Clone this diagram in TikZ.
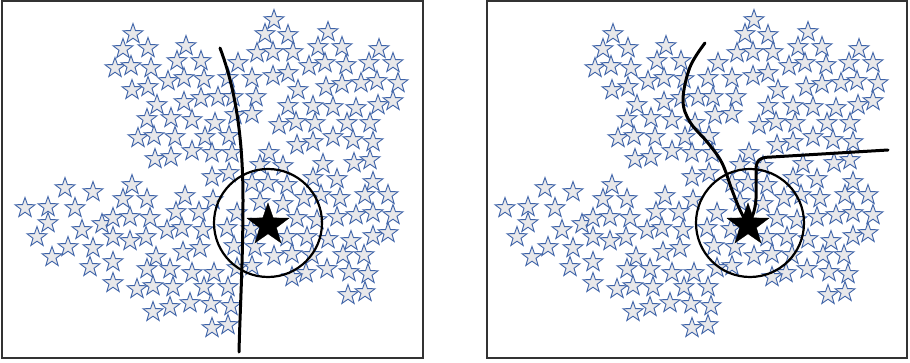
\documentclass[tikz,border=0pt]{standalone}
\usepackage{tikz}
\usetikzlibrary{shapes.geometric}
\definecolor{starblue}{HTML}{3E63A8}
\definecolor{starfill}{HTML}{E8E8EA}

\begin{document}
\begin{tikzpicture}[x=1pt, y=-1pt,
    smallstar/.style={star, star points=5, star point ratio=2.5, inner sep=0pt,
        minimum size=21pt, draw=starblue, fill=starfill, line width=0.9pt},
    querystar/.style={star, star points=5, star point ratio=2.5, inner sep=0pt,
        minimum size=44pt, fill=black, draw=black},
    panel/.style={draw=black!80, line width=1.8pt},
    nbhd/.style={circle, draw=black, line width=2.2pt, minimum size=108pt, inner sep=0pt},
    boundary/.style={draw=black, line width=3pt, line cap=round}]
    \useasboundingbox (0,0) rectangle (910,363);

    \draw[panel] (2,1) rectangle (423,358);
    \draw[panel] (487,1) rectangle (907,358);

    % the same cloud of points in both panels
    \foreach \x/\y [count=\i] in {274/20, 133/34, 265/34, 288/35, 328/32, 123/49, 148/48, 186/46,
        257/53, 273/52, 293/52, 318/47, 342/47, 379/49, 115/68, 131/66, 151/68, 177/61, 201/61,
        238/63, 309/66, 325/63, 346/65, 369/63, 393/63, 132/90, 148/87, 168/81, 184/78, 204/79,
        228/78, 252/78, 273/76, 288/73, 326/87, 342/84, 361/83, 377/81, 398/83, 157/105, 184/102,
        201/98, 218/97, 233/97, 256/97, 298/90, 288/106, 313/106, 333/107, 356/108, 378/105,
        393/101, 147/119, 171/118, 192/120, 215/123, 235/115, 252/114, 279/125, 296/122, 315/123,
        347/123, 370/123, 138/138, 154/136, 175/137, 205/137, 229/136, 297/145, 313/142, 333/137,
        353/140, 373/142, 155/159, 171/157, 192/151, 212/153, 232/153, 269/153, 323/164, 354/163,
        370/160, 212/177, 229/173, 260/165, 283/166, 313/178, 337/179, 373/182, 65/188, 93/192,
        132/185, 252/183, 268/183, 287/185, 25/208, 48/207, 75/208, 123/199, 147/199, 185/196,
        213/200, 260/202, 283/204, 304/198, 321/195, 340/198, 365/195, 388/195, 176/212, 199/212,
        48/223, 102/224, 113/218, 130/217, 150/218, 237/213, 297/218, 337/217, 356/215, 373/213,
        393/215, 82/230, 167/230, 182/228, 203/230, 227/228, 251/229, 317/220, 37/237, 113/237,
        130/241, 146/237, 287/237, 307/237, 328/239, 351/241, 373/236, 388/233, 68/247, 93/248,
        234/246, 255/247, 200/248, 183/252, 52/257, 113/262, 156/257, 274/256, 292/254, 312/255,
        343/255, 364/255, 90/267, 252/266, 237/268, 147/269, 170/269, 192/273, 214/273, 306/273,
        292/277, 327/269, 349/272, 368/274, 113/283, 153/286, 137/289, 173/287, 204/287, 228/287,
        348/295, 365/292, 190/303, 211/304, 231/306, 153/312, 170/307, 212/328, 228/325}
    {
        \node[smallstar] (pl\i) at (\x,\y) {};
        \node[smallstar] (pr\i) at (\x+480,\y) {};
    }

    % neighbourhoods and query points
    \node[nbhd] (nbhdL) at (268,223) {};
    \node[nbhd] (nbhdR) at (750,223) {};
    \node[querystar] (qleft) at (268,225) {};
    \node[querystar] (qright) at (748,225) {};

    % decision boundaries
    \draw[boundary] (220,48) .. controls (236,90) and (243,140) .. (243,200)
        .. controls (243,260) and (240,310) .. (239,352);
    \draw[boundary] plot[smooth, tension=0.6] coordinates {(705,43) (690,67) (683,100) (690,122)
        (708,143) (722,163) (732,190) (740,210) (qright.center)};
    \draw[boundary] (qright.center) .. controls (754,215) and (757,205) .. (756,185)
        -- (756,170) .. controls (756,160) and (760,157) .. (772,157) -- (888,150);
\end{tikzpicture}
\end{document}
